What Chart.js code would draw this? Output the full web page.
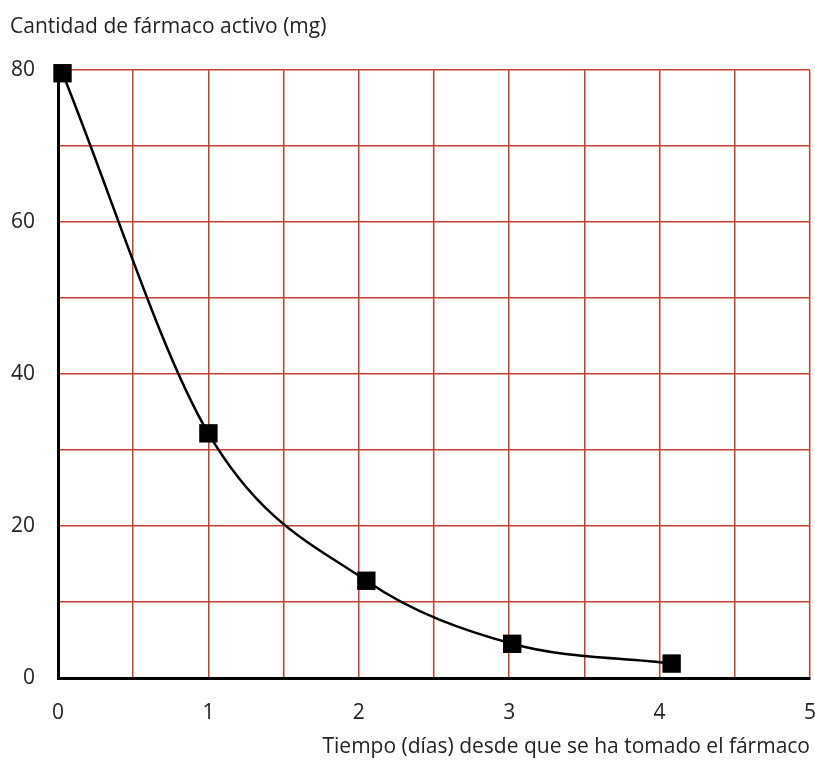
<!DOCTYPE html>
<html>
<head>
<meta charset="utf-8">
<script src="https://cdn.jsdelivr.net/npm/chart.js@4/dist/chart.umd.min.js"></script>
<style>
  body { margin: 0; background: #fff; }
  canvas { display: block; }
</style>
</head>
<body>
<canvas id="chart" width="815" height="761"></canvas>
<script>
'use strict';

// values
let days = [0.03, 1.0, 2.05, 3.02, 4.08];
let drugMg = [79.6, 32.2, 12.8, 4.5, 1.9];

let yTitle = 'Cantidad de fármaco activo (mg)';
let xTitle = 'Tiempo (días) desde que se ha tomado el fármaco';

let gridRed = '#c4412f';
let textColor = '#222';
let fontFamily = '"Open Sans", sans-serif';

function renderChart() {
  let points = days.map((d, i) => ({ x: d, y: drugMg[i] }));

  let data = {
    datasets: [{
      data: points,
      borderColor: '#000',
      borderWidth: 2.5,
      backgroundColor: '#000',
      pointStyle: 'rect',
      pointRadius: 13,
      pointHoverRadius: 13,
      pointBorderWidth: 0,
      cubicInterpolationMode: 'monotone',
      clip: false
    }]
  };

  let config = {
    type: 'line',
    data: data,
    options: {
      responsive: false,
      animation: false,
      layout: {
        autoPadding: false,
        padding: { left: 10, right: 5, top: 0, bottom: 0 }
      },
      plugins: {
        legend: { display: false },
        tooltip: { enabled: false },
        title: {
          display: true,
          text: yTitle,
          align: 'start',
          color: textColor,
          font: { family: fontFamily, size: 21, weight: 'normal' },
          padding: { top: 14, bottom: 31 }
        }
      },
      scales: {
        x: {
          type: 'linear',
          min: 0,
          max: 5,
          afterFit: scale => {
            scale.height = 83;
            scale.paddingRight = 0; // let the "5" hang over the edge
          },
          ticks: {
            stepSize: 0.5,
            padding: 22,
            color: textColor,
            font: { family: fontFamily, size: 21 },
            maxRotation: 0,
            autoSkip: false,
            callback: v => (Number.isInteger(v) ? v : '')
          },
          grid: { color: gridRed, lineWidth: 1.5, drawTicks: false },
          border: { color: '#000', width: 3 },
          title: {
            display: true,
            text: xTitle,
            align: 'end',
            color: textColor,
            font: { family: fontFamily, size: 21 },
            padding: { top: 0, bottom: 1 }
          }
        },
        y: {
          min: 0,
          max: 80,
          afterFit: scale => { scale.width = 48; },
          ticks: {
            stepSize: 10,
            padding: 23,
            color: textColor,
            font: { family: fontFamily, size: 21 },
            autoSkip: false,
            callback: v => (v % 20 === 0 ? v : '')
          },
          grid: { color: gridRed, lineWidth: 1.5, drawTicks: false },
          border: { color: '#000', width: 3 }
        }
      }
    }
  };

  new Chart(canvasElem, config);
}

let canvasElem = document.getElementById('chart');
renderChart();
</script>
</body>
</html>
